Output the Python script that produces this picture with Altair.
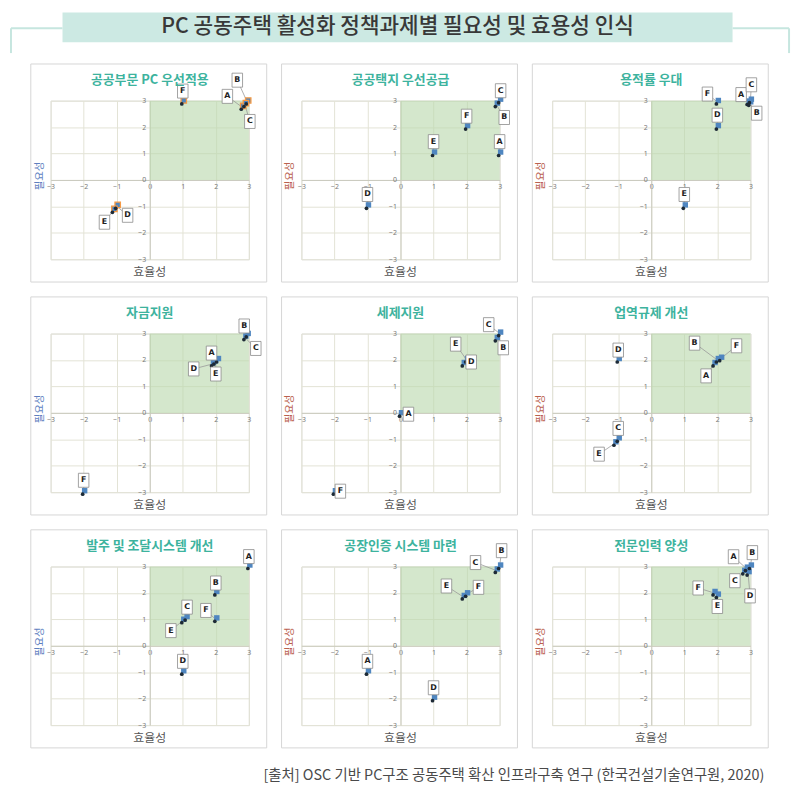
import altair as alt
import numpy as np
import pandas as pd

MAIN_TITLE = "PC 공동주택 활성화 정책과제별 필요성 및 효용성 인식"
SOURCE_NOTE = "[출처] OSC 기반 PC구조 공동주택 확산 인프라구축 연구 (한국건설기술연구원, 2020)"
X_TITLE = "효율성"
Y_TITLE = "필요성"
TICKS = [-3, -2, -1, 0, 1, 2, 3]
QUADRANT = {"x0": [0], "x1": [3], "y0": [0], "y1": [3]}

PANEL_TITLES = ["공공부문 PC 우선적용", "공공택지 우선공급", "용적률 우대",
                "자금지원", "세제지원", "업역규제 개선",
                "발주 및 조달시스템 개선", "공장인증 시스템 마련", "전문인력 양성"]

LETTERS = [
    ["A", "B", "C", "F", "D", "E"],
    ["C", "B", "F", "E", "A", "D"],
    ["F", "D", "A", "C", "B", "E"],
    ["B", "C", "A", "D", "E", "F"],
    ["C", "B", "E", "D", "A", "F"],
    ["B", "F", "A", "D", "C", "E"],
    ["A", "B", "C", "E", "F", "D"],
    ["B", "C", "E", "F", "A", "D"],
    ["A", "B", "C", "D", "F", "E"],
]
EFFICIENCY = [
    [2.8, 2.95, 2.88, 1.0, -1.0, -1.1],
    [3.0, 2.9, 2.0, 1.0, 3.0, -1.0],
    [2.0, 2.0, 2.93, 3.0, 2.98, 1.0],
    [2.95, 2.88, 2.05, 1.9, 1.97, -2.0],
    [3.0, 2.9, 2.0, 1.9, 0.0, -2.0],
    [2.0, 2.1, 1.9, -1.0, -1.0, -1.1],
    [3.0, 2.0, 1.1, 1.0, 2.0, 1.0],
    [3.0, 2.9, 1.9, 2.0, -1.0, 1.0],
    [2.88, 3.0, 2.8, 2.93, 1.9, 2.0],
]
NECESSITY = [
    [2.75, 2.95, 2.85, 2.95, -1.0, -1.15],
    [3.0, 2.85, 2.0, 1.0, 1.0, -1.0],
    [2.95, 2.0, 2.93, 3.0, 2.9, -1.0],
    [2.95, 2.85, 2.0, 1.85, 1.92, -3.0],
    [3.0, 2.8, 2.0, 1.85, -0.05, -3.0],
    [2.0, 2.05, 1.85, 2.0, -1.0, -1.15],
    [3.0, 2.0, 1.05, 0.95, 1.0, -1.0],
    [3.0, 2.85, 1.85, 1.95, -1.0, -2.0],
    [2.92, 3.0, 2.8, 2.75, 2.0, 1.9],
]

# ---- layout / style (label box offsets in px: right, up) ----
LABEL_OFFSETS = [
    [(-15, 11), (-10, 22), (5, -17), (0, 11), (11, -9), (-9, -12)],
    [(1, 10), (8, -13), (0, 11), (0, 12), (0, 12), (0, 12)],
    [(-10, 8), (0, 12), (-7, 8), (1, 16), (7, -10), (0, 12)],
    [(-3, 9), (11, -11), (-6, 7), (-19, -5), (1, -12), (0, 12)],
    [(-11, 9), (7, -9), (-11, 16), (8, 2), (8, 0), (6, 1)],
    [(-23, 17), (16, 13), (-8, -12), (0, 10), (0, 11), (-16, -11)],
    [(0, 10), (0, 10), (1, 11), (-12, -10), (-10, 9), (0, 11)],
    [(2, 16), (-21, 8), (-17, 11), (12, 7), (0, 11), (0, 11)],
    [(-13, 12), (2, 14), (-9, -9), (2, -23), (-16, 5), (0, -11)],
]
BLUE_YTITLE = {0, 3, 6}
W, H = 200, 160
FONT = "Noto Sans CJK KR"
BOX = "M -0.75 -1 L 0.75 -1 L 0.75 1 L -0.75 1 Z"


def make_panel(i):
    dx = np.array([o[0] for o in LABEL_OFFSETS[i]], dtype=float)
    dy = np.array([o[1] for o in LABEL_OFFSETS[i]], dtype=float)
    df = pd.DataFrame({"letter": LETTERS[i], "x": EFFICIENCY[i], "y": NECESSITY[i]})
    df["lx"] = df["x"] + dx * 6 / W
    df["ly"] = df["y"] + dy * 6 / H

    xs = alt.Scale(domain=[-3, 3], nice=False, zero=False)
    ys = alt.Scale(domain=[-3, 3], nice=False, zero=False)
    common = dict(values=TICKS, title=None, ticks=False, labelFontSize=7, labelColor="#777777",
                  labelFont="Noto Sans", domainColor="#c9c9bd", gridColor="#e3e3d6",
                  labelFlush=False, labelOverlap=False, format="d")
    xax = alt.Axis(offset=-H / 2, labelPadding=3, **common)
    yax = alt.Axis(offset=-W / 2, labelPadding=4, **common)
    X = lambda f: alt.X(f, type="quantitative", scale=xs, axis=xax)
    Y = lambda f: alt.Y(f, type="quantitative", scale=ys, axis=yax)

    quad = alt.Chart(pd.DataFrame(QUADRANT)).mark_rect(color="#b9d9ad", opacity=0.62).encode(
        x=X("x0"), x2="x1", y=Y("y0"), y2="y1")
    base = alt.Chart(df)
    leaders = base.mark_rule(color="#9a9a9a", strokeWidth=0.8).encode(
        x=X("x"), y=Y("y"), x2="lx", y2="ly")
    sq_kw = dict(shape="square", filled=True, size=30, color="#4f86c0", opacity=1,
                 xOffset=1, yOffset=-1.5)
    if i == 0:
        sq_kw.update(stroke="#f59a45", strokeWidth=1.3)
    squares = base.mark_point(**sq_kw).encode(x=X("x"), y=Y("y"))
    dots = base.mark_circle(size=14, color="#1d2a36", opacity=1, xOffset=-1, yOffset=2).encode(
        x=X("x"), y=Y("y"))
    boxes = base.mark_point(shape=BOX, size=200, filled=True, fill="white", stroke="#8a8a8a",
                            strokeWidth=0.8, opacity=1).encode(x=X("lx"), y=Y("ly"))
    letters = base.mark_text(fontSize=8, fontWeight="bold", color="#222222", font="DejaVu Sans",
                             align="center", baseline="middle").encode(
        x=X("lx"), y=Y("ly"), text="letter:N")

    one = pd.DataFrame({"a": [0]})
    border = alt.Chart(one).mark_rect(fillOpacity=0, stroke="#d6d6d6", strokeWidth=1).encode(
        x=alt.value(-20), x2=alt.value(218), y=alt.value(-37), y2=alt.value(183))
    ptitle = alt.Chart(one).mark_text(fontSize=13, fontWeight="bold", color="#3db39e", font=FONT,
                                      baseline="middle").encode(
        x=alt.value(W / 2), y=alt.value(-21), text=alt.value(PANEL_TITLES[i]))
    xtitle = alt.Chart(one).mark_text(fontSize=12, color="#555555", font=FONT,
                                      baseline="middle").encode(
        x=alt.value(W / 2), y=alt.value(173), text=alt.value(X_TITLE))
    ycol = "#5e7fbf" if i in BLUE_YTITLE else "#b9604e"
    ytitle = alt.Chart(one).mark_text(fontSize=10.5, color=ycol, font=FONT, angle=270,
                                      baseline="middle").encode(
        x=alt.value(-11), y=alt.value(76), text=alt.value(Y_TITLE))

    layers = [quad, leaders, squares, dots, boxes, letters, border, ptitle, xtitle, ytitle]

    if i == 0:
        br = dict(color="#c6e6df", strokeWidth=2)
        banner = alt.Chart(one).mark_rect(color="#cce9e3").encode(
            x=alt.value(12), x2=alt.value(688), y=alt.value(-89), y2=alt.value(-59))
        btext = alt.Chart(one).mark_text(fontSize=21.5, fontWeight=500, color="#383838", font=FONT,
                                         baseline="middle").encode(
            x=alt.value(350), y=alt.value(-74), text=alt.value(MAIN_TITLE))
        l1 = alt.Chart(one).mark_rule(**br).encode(x=alt.value(-40), x2=alt.value(12), y=alt.value(-73))
        l2 = alt.Chart(one).mark_rule(**br).encode(x=alt.value(688), x2=alt.value(745), y=alt.value(-73))
        l3 = alt.Chart(one).mark_rule(**br).encode(x=alt.value(-40), y=alt.value(-73), y2=alt.value(-48))
        l4 = alt.Chart(one).mark_rule(**br).encode(x=alt.value(745), y=alt.value(-73), y2=alt.value(-48))
        layers += [l1, l2, l3, l4, banner, btext]
    if i == 8:
        foot = alt.Chart(one).mark_text(fontSize=14.5, color="#4a4a4a", font=FONT, align="right",
                                        baseline="middle").encode(
            x=alt.value(214), y=alt.value(211), text=alt.value(SOURCE_NOTE))
        layers.append(foot)

    return alt.layer(*layers).properties(width=W, height=H)


panels = [make_panel(i) for i in range(9)]
chart = alt.concat(*panels, columns=3, spacing=alt.RowColnumber(row=75, column=53),
                   bounds="flush").properties(
    padding={"left": 1, "top": 0, "right": 4, "bottom": 4}
).configure_view(fill="#fcfbe8", stroke=None).configure(font=FONT)

chart.save("out.html", embed_options={"renderer": "svg", "actions": False})
